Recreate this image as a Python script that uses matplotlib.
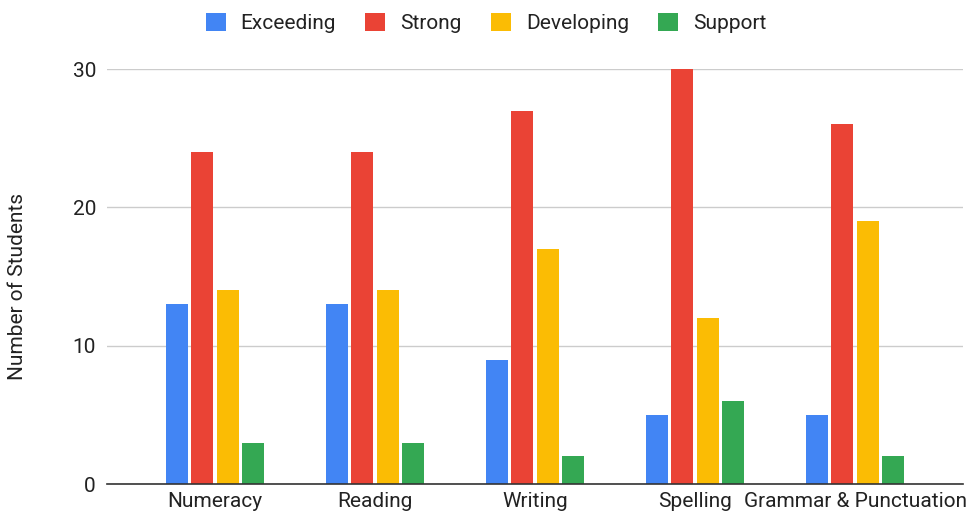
import matplotlib
matplotlib.use("Agg")
import matplotlib.pyplot as plt
import numpy as np

plt.rcParams['font.family'] = ['Roboto', 'DejaVu Sans']

categories = ["Numeracy", "Reading", "Writing", "Spelling", "Grammar & Punctuation"]
series_names = ["Exceeding", "Strong", "Developing", "Support"]
exceeding = [13, 13, 9, 5, 5]
strong = [24, 24, 27, 30, 26]
developing = [14, 14, 17, 12, 19]
support = [3, 3, 2, 6, 2]
colors = ["#4285F4", "#EA4335", "#FBBC04", "#34A853"]
y_ticks = [0, 10, 20, 30]

FS = 15
TXT = "#222222"

fig = plt.figure(figsize=(9.73, 5.19), dpi=100)
ax = fig.add_axes([107 / 973, 35 / 519, 856 / 973, 415 / 519])

x = np.arange(len(categories))
bar_w = 0.1375
pitch = 0.16
all_series = [exceeding, strong, developing, support]
handles = []
for i, (vals, col, name) in enumerate(zip(all_series, colors, series_names)):
    offs = (i - 1.5) * pitch
    bars = ax.bar(x + offs, vals, width=bar_w, color=col, label=name,
                  zorder=3, clip_on=False)
    handles.append(bars)

ax.set_xlim(-0.675, 4.675)
ax.set_ylim(0, 30)
ax.set_yticks(y_ticks)
ax.set_xticks(x)
ax.set_xticklabels(categories)
ax.yaxis.grid(True, color="#cccccc", linewidth=1, zorder=0)
for s in ["top", "right", "left"]:
    ax.spines[s].set_visible(False)
ax.spines["bottom"].set_color("#333333")
ax.spines["bottom"].set_linewidth(1.2)
ax.spines["bottom"].set_zorder(4)
ax.tick_params(axis="both", length=0, labelsize=FS, colors=TXT)
ax.tick_params(axis="y", pad=8)
ax.tick_params(axis="x", pad=6)

fig.text(18 / 973, 1 - 287 / 519, "Number of Students", rotation=90,
         ha="center", va="center", fontsize=FS, color=TXT)

leg = fig.legend(handles, series_names, loc="center", bbox_to_anchor=(486 / 973, 1 - 23 / 519),
                 ncol=4, frameon=False, fontsize=FS, handlelength=0.96, handleheight=0.96,
                 handletextpad=0.72, columnspacing=1.4, borderpad=0, borderaxespad=0)
for t in leg.get_texts():
    t.set_color(TXT)

fig.savefig("out.png", dpi=100)
